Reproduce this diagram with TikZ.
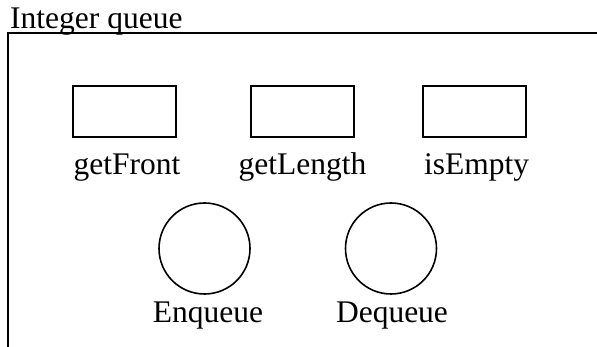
\documentclass[tikz,border=0pt]{standalone}
\usepackage{fontspec}
\setmainfont{Liberation Serif}
\begin{document}
\begin{tikzpicture}[x=1pt,y=-1pt,
  frameline/.style={line width=2pt},
  opbox/.style={draw,line width=2pt,minimum width=103pt,minimum height=51pt,inner sep=0pt},
  opcirc/.style={draw,circle,line width=1.6pt,minimum size=91pt,inner sep=0pt},
  lbl/.style={anchor=base,inner sep=0pt,font=\fontsize{31.5}{36}\selectfont}]
\useasboundingbox (0,0) rectangle (597,347);
\node[lbl,anchor=base west] (title) at (10,29) {Integer queue};
\coordinate (tl) at (8.3,33);
\coordinate (tr) at (600,33);
\coordinate (bl) at (8.3,350);
\draw[frameline] (tr) -- (tl) -- (bl);
\node[opbox] (b1) at (124.5,111.5) {};
\node[opbox] (b2) at (302,111.5) {};
\node[opbox] (b3) at (474.5,111.5) {};
\node[lbl] (l1) at (127,175) {getFront};
\node[lbl] (l2) at (302.5,175) {getLength};
\node[lbl] (l3) at (476.5,175) {isEmpty};
\node[opcirc] (c1) at (204.5,248.5) {};
\node[opcirc] (c2) at (391,248.5) {};
\node[lbl] (l4) at (208,323) {Enqueue};
\node[lbl] (l5) at (392,323) {Dequeue};
\end{tikzpicture}
\end{document}
